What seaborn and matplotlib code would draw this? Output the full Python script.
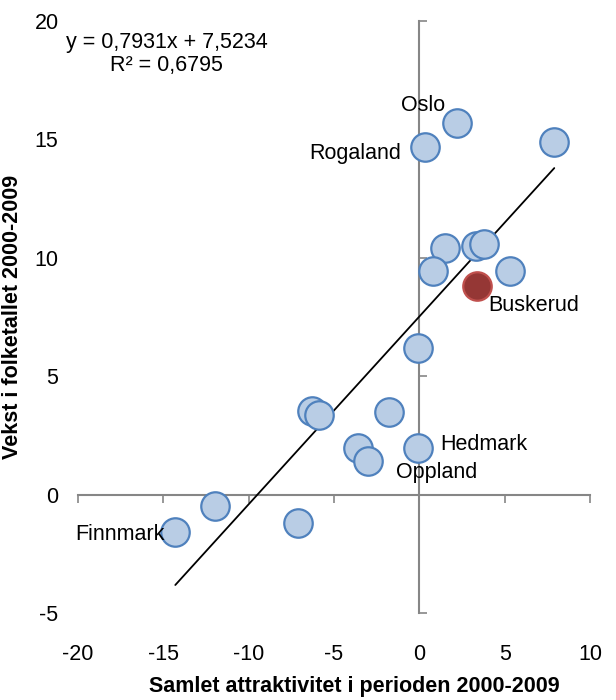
import numpy as np
import pandas as pd
import matplotlib
matplotlib.use("Agg")
import matplotlib.pyplot as plt
import seaborn as sns

# Fylker: samlet attraktivitet (x) og vekst i folketallet (y), 2000-2009
fylke = ["Oslo", "Rogaland", "", "", "", "", "", "", "Buskerud", "",
         "", "", "", "", "Oppland", "Hedmark", "", "", "Finnmark"]
attraktivitet = [2.2, 0.3, 7.9, 1.5, 3.3, 3.8, 0.8, 5.3, 3.4, -0.1,
                 -6.3, -5.9, -1.8, -3.6, -3.0, -0.1, -12.0, -7.1, -14.3]
vekst = [15.7, 14.7, 14.9, 10.4, 10.5, 10.6, 9.45, 9.45, 8.8, 6.2,
         3.55, 3.35, 3.5, 1.95, 1.4, 1.95, -0.5, -1.2, -1.6]
uthevet = "Buskerud"

# trendlinje fra Excel
stigning = 0.7931
konstant = 7.5234
r2 = 0.6795

df = pd.DataFrame({"fylke": fylke, "x": attraktivitet, "y": vekst})

sns.set_theme(style="white")
plt.rcParams["font.family"] = ["Liberation Sans", "DejaVu Sans"]
plt.rcParams["axes.unicode_minus"] = False
plt.rcParams["text.color"] = "black"

fig = plt.figure(figsize=(6.16, 7.0), dpi=100)
ax = fig.add_axes([0.1266, 0.1243, 0.8314, 0.8457])

fs = 15.5
blue_fill, blue_edge = "#B9CDE5", "#4F81BD"
red_fill, red_edge = "#953735", "#C0504D"

# trendlinje
xl = np.array([df["x"].min(), df["x"].max()])
sns.lineplot(x=xl, y=stigning * xl + konstant, color="black", lw=1.3, ax=ax)

vanlig = df[df["fylke"] != uthevet]
bus = df[df["fylke"] == uthevet]
sns.scatterplot(data=vanlig, x="x", y="y", s=420, color=blue_fill,
                edgecolor=blue_edge, linewidth=1.6, ax=ax, zorder=3)
sns.scatterplot(data=bus, x="x", y="y", s=420, color=red_fill,
                edgecolor=red_edge, linewidth=1.6, ax=ax, zorder=3)

# etiketter
def lbl(name, dx, dy, ha):
    r = df[df["fylke"] == name].iloc[0]
    ax.text(r["x"] + dx, r["y"] + dy, name, ha=ha, va="center", fontsize=fs,
            color="black", zorder=4)

lbl("Oslo", -2.0, 0.75, "center")
lbl("Rogaland", -1.4, -0.3, "right")
lbl("Buskerud", 0.65, -0.8, "left")
lbl("Hedmark", 1.3, 0.15, "left")
lbl("Oppland", 1.6, -0.45, "left")
lbl("Finnmark", -0.6, -0.1, "right")

ax.text(-14.8, 19.1, f"y = {stigning:.4f}x + {konstant:.4f}".replace(".", ","),
        ha="center", va="center", fontsize=fs, color="black")
ax.text(-14.8, 18.1, f"R² = {r2:.4f}".replace(".", ","),
        ha="center", va="center", fontsize=fs, color="black")

ax.set_xlim(-20, 10)
ax.set_ylim(-5, 20)
ax.set_xticks(range(-20, 11, 5))
ax.set_yticks(range(-5, 21, 5))
for s in ax.spines.values():
    s.set_visible(False)
ax.tick_params(axis="both", length=0, labelsize=fs, labelcolor="black")
ax.tick_params(axis="x", pad=22)
ax.tick_params(axis="y", pad=14)

# akser gjennom null
gray = "#868686"
sy = ax.secondary_yaxis(2 / 3)
sy.set_yticks(range(-5, 21, 5))
sy.tick_params(length=6, width=1.2, color=gray, labelleft=False, labelright=False)
sx = ax.secondary_xaxis(0.2)
sx.set_xticks(range(-20, 11, 5))
sx.tick_params(length=6, width=1.2, color=gray, labelbottom=False, labeltop=False)
for sec in (sx, sy):
    for sp in sec.spines.values():
        sp.set_color(gray)
        sp.set_linewidth(1.5)

ax.set_xlabel("Samlet attraktivitet i perioden 2000-2009", fontsize=fs,
              fontweight="bold", color="black")
ax.set_ylabel("Vekst i folketallet 2000-2009", fontsize=fs, fontweight="bold",
              color="black", labelpad=8)
ax.xaxis.set_label_coords(0.54, -0.107)

fig.savefig("out.png", dpi=100)
